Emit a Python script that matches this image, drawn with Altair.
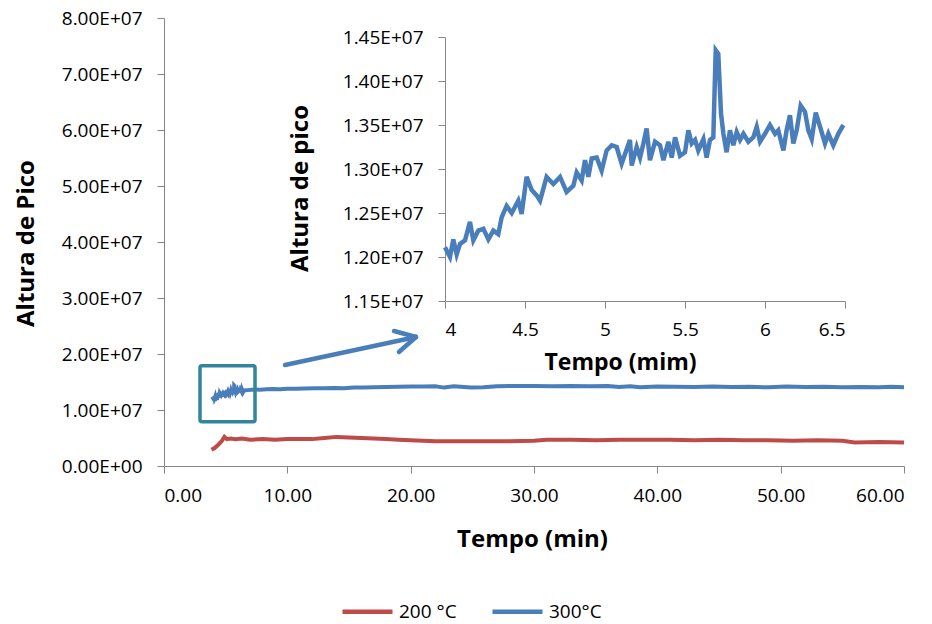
import altair as alt
import pandas as pd

# ---------------- data (heights in units of 1e7) ----------------
series_names = ["200 °C", "300°C"]

# 300°C run, zoomed segment (also used in main chart)
blue_inset_t = [4.000, 4.031, 4.052, 4.073, 4.094, 4.125, 4.156, 4.177, 4.208, 4.240,
                4.271, 4.302, 4.333, 4.354, 4.385, 4.417, 4.458, 4.479, 4.510, 4.542,
                4.573, 4.594, 4.635, 4.677, 4.719, 4.760, 4.802, 4.823, 4.854, 4.875,
                4.896, 4.917, 4.948, 4.979, 5.010, 5.042, 5.073, 5.104, 5.125, 5.156,
                5.167, 5.198, 5.219, 5.240, 5.260, 5.281, 5.313, 5.344, 5.365, 5.396,
                5.417, 5.438, 5.469, 5.500, 5.521, 5.542, 5.563, 5.583, 5.615, 5.635,
                5.656, 5.677, 5.692, 5.708, 5.725, 5.740, 5.760, 5.781, 5.802, 5.823,
                5.844, 5.865, 5.896, 5.927, 5.948, 5.969, 6.000, 6.031, 6.063, 6.083,
                6.115, 6.135, 6.156, 6.177, 6.198, 6.223, 6.250, 6.271, 6.292, 6.317,
                6.344, 6.375, 6.396, 6.427, 6.458, 6.490]
blue_inset_v = [1.211, 1.200, 1.220, 1.203, 1.215, 1.219, 1.240, 1.219, 1.230, 1.232,
                1.220, 1.230, 1.226, 1.245, 1.258, 1.250, 1.264, 1.249, 1.291, 1.276,
                1.270, 1.264, 1.291, 1.283, 1.291, 1.274, 1.281, 1.296, 1.287, 1.310,
                1.291, 1.312, 1.313, 1.298, 1.321, 1.327, 1.325, 1.306, 1.317, 1.333,
                1.304, 1.325, 1.313, 1.329, 1.346, 1.310, 1.331, 1.327, 1.310, 1.331,
                1.313, 1.336, 1.315, 1.319, 1.344, 1.329, 1.333, 1.321, 1.334, 1.313,
                1.333, 1.336, 1.435, 1.431, 1.363, 1.340, 1.319, 1.344, 1.327, 1.342,
                1.333, 1.340, 1.331, 1.336, 1.348, 1.331, 1.340, 1.350, 1.340, 1.344,
                1.321, 1.344, 1.361, 1.329, 1.344, 1.372, 1.365, 1.344, 1.334, 1.364,
                1.348, 1.329, 1.340, 1.327, 1.340, 1.350]

blue_start_t = [3.85]
blue_start_v = [1.19]

blue_late_t = [6.8, 7.3, 7.8, 8.3, 8.8, 9.4, 10.0, 10.7, 11.4, 12.2,
               13.0, 13.8, 14.6, 15.4, 16.2, 17.0, 18.0, 19.0, 20.0, 21.0,
               22.0, 22.7, 23.5, 24.9, 25.9, 27.0, 28.5, 30.0, 31.5, 33.0,
               34.5, 36.0, 36.9, 37.8, 38.6, 40.0, 41.5, 43.0, 44.5, 46.0,
               47.5, 49.0, 50.5, 52.0, 53.5, 55.0, 56.5, 58.0, 59.0, 60.0]
blue_late_v = [1.355, 1.365, 1.36, 1.37, 1.375, 1.37, 1.38, 1.38, 1.385, 1.39,
               1.39, 1.395, 1.39, 1.40, 1.40, 1.405, 1.41, 1.415, 1.42, 1.42,
               1.425, 1.40, 1.425, 1.40, 1.405, 1.425, 1.43, 1.43, 1.425, 1.43,
               1.425, 1.43, 1.41, 1.425, 1.405, 1.42, 1.415, 1.41, 1.42, 1.41,
               1.415, 1.405, 1.42, 1.41, 1.415, 1.405, 1.41, 1.405, 1.415, 1.405]

# 200 °C run
red_t = [3.85, 4.1, 4.4, 4.7, 4.9, 5.1, 5.4, 5.8, 6.3, 7.0,
         8.0, 9.0, 10.0, 11.0, 12.0, 13.0, 14.0, 15.0, 16.0, 17.0,
         18.0, 19.0, 20.0, 22.0, 24.0, 26.0, 28.0, 30.0, 31.0, 33.0,
         35.0, 37.0, 39.0, 41.0, 43.0, 45.0, 47.0, 49.0, 51.0, 53.0,
         55.0, 56.0, 58.0, 60.0]
red_v = [0.29, 0.32, 0.38, 0.45, 0.52, 0.48, 0.49, 0.48, 0.49, 0.47,
         0.48, 0.47, 0.48, 0.48, 0.48, 0.50, 0.52, 0.51, 0.50, 0.49,
         0.48, 0.47, 0.46, 0.44, 0.44, 0.44, 0.44, 0.45, 0.47, 0.47,
         0.46, 0.47, 0.47, 0.47, 0.46, 0.47, 0.46, 0.46, 0.45, 0.46,
         0.45, 0.42, 0.43, 0.42]

# axis ticks
main_x_ticks = [0, 10, 20, 30, 40, 50, 60]
main_y_ticks = [0, 1, 2, 3, 4, 5, 6, 7, 8]
inset_x_ticks = [4, 4.5, 5, 5.5, 6, 6.5]
inset_y_ticks = [1.15, 1.20, 1.25, 1.30, 1.35, 1.40, 1.45]

# annotation: zoom box and arrow (data units of main chart)
box_t, box_t2, box_v, box_v2 = [2.92], [7.38], [1.79], [0.79]
arrow_t = [9.81, 20.43, 20.43]
arrow_v = [1.804, 2.304, 2.304]
arrow_t2 = [20.43, 18.65, 19.05]
arrow_v2 = [2.304, 2.411, 2.036]

E7 = 1e7
BLUE = "#4A7EBB"
RED = "#BE4B48"
TEAL = "#31859C"
AXC = "#868686"
FONT = "Open Sans"

blue_t = blue_start_t + blue_inset_t + blue_late_t
blue_v = blue_start_v + blue_inset_v + blue_late_v

df_main = pd.concat([
    pd.DataFrame({"t": red_t, "v": [x * E7 for x in red_v], "serie": series_names[0]}),
    pd.DataFrame({"t": blue_t, "v": [x * E7 for x in blue_v], "serie": series_names[1]}),
])
df_inset = pd.DataFrame({"t": blue_inset_t, "v": [x * E7 for x in blue_inset_v]})
df_box = pd.DataFrame({"t": box_t, "t2": box_t2,
                       "v": [x * E7 for x in box_v], "v2": [x * E7 for x in box_v2]})
df_arrow = pd.DataFrame({"t": arrow_t, "t2": arrow_t2,
                         "v": [x * E7 for x in arrow_v], "v2": [x * E7 for x in arrow_v2]})

W, H = 740, 448
PAD_L, PAD_T = 164, 18

sci_expr = "datum.value == 0 ? '0.00E+00' : format(datum.value / 1e7, '.2f') + 'E+07'"

axis_common = dict(domainColor=AXC, tickColor=AXC, tickSize=7, labelColor="#000000",
                   labelFont=FONT, labelFontSize=19, titleFont=FONT, titleFontWeight="bold",
                   titleColor="#000000", grid=False, titleBaseline="middle")

main_x = alt.X("t:Q", scale=alt.Scale(domain=[0, 60], nice=False, zero=False),
               axis=alt.Axis(values=main_x_ticks, format=".2f", title="Tempo (min)",
                             titleFontSize=24, titleX=532 - PAD_L, titleY=539 - 466,
                             labelPadding=13, **axis_common))
main_y = alt.Y("v:Q", scale=alt.Scale(domain=[0, 8 * E7], nice=False),
               axis=alt.Axis(values=[x * E7 for x in main_y_ticks], labelExpr=sci_expr,
                             title="Altura de Pico", titleFontSize=24, labelPadding=15,
                             titleX=26 - PAD_L, titleY=243 - PAD_T, **axis_common))

lines = alt.Chart(df_main).mark_line(strokeWidth=4).encode(
    x=main_x, y=main_y,
    color=alt.Color("serie:N", scale=alt.Scale(domain=series_names, range=[RED, BLUE]),
                    legend=alt.Legend(orient="none", legendX=176, legendY=566,
                                      direction="horizontal", title=None,
                                      symbolType="stroke", symbolStrokeWidth=4.5,
                                      symbolSize=2500, labelFont=FONT, labelFontSize=19,
                                      labelColor="#000000", columnPadding=26,
                                      labelOffset=4)),
)

box = alt.Chart(df_box).mark_rect(fillOpacity=0, stroke=TEAL, strokeWidth=3.5,
                                  cornerRadius=2).encode(
    x=main_x, y=main_y, x2="t2:Q", y2="v2:Q")

arrow = alt.Chart(df_arrow).mark_rule(strokeWidth=4.5, strokeCap="round", color=BLUE).encode(
    x=main_x, y=main_y, x2="t2:Q", y2="v2:Q")

main = alt.layer(lines, box, arrow)

ix0, ix1 = 445 - PAD_L, 845 - PAD_L
iy_top, iy_bot = 37 - PAD_T, 301 - PAD_T

inset = alt.Chart(df_inset).mark_line(strokeWidth=4.5, color=BLUE).encode(
    x=alt.X("t:Q", scale=alt.Scale(domain=[4, 6.5], range=[ix0, ix1], nice=False, zero=False),
            axis=alt.Axis(orient="bottom", offset=iy_bot - H, values=inset_x_ticks, format="~g",
                          title="Tempo (mim)", titleFontSize=23, labelPadding=12,
                          titleX=620 - PAD_L, titleY=362 - 301, **axis_common)),
    y=alt.Y("v:Q", scale=alt.Scale(domain=[1.15 * E7, 1.45 * E7], range=[iy_bot, iy_top],
                                   nice=False, zero=False),
            axis=alt.Axis(orient="left", offset=-ix0, values=[x * E7 for x in inset_y_ticks],
                          labelExpr=sci_expr, title="Altura de pico", titleFontSize=24,
                          labelPadding=15, titleX=300 - 445, titleY=188 - PAD_T,
                          **axis_common)),
)

chart = alt.layer(main, inset).resolve_scale(x="independent", y="independent").properties(
    width=W, height=H,
    autosize=alt.AutoSizeParams(type="none"),
    padding={"left": PAD_L, "top": PAD_T, "right": 932 - PAD_L - W, "bottom": 624 - PAD_T - H},
    background="white",
).configure_view(stroke=None)

chart.save("out.html", embed_options={"renderer": "svg", "actions": False})
